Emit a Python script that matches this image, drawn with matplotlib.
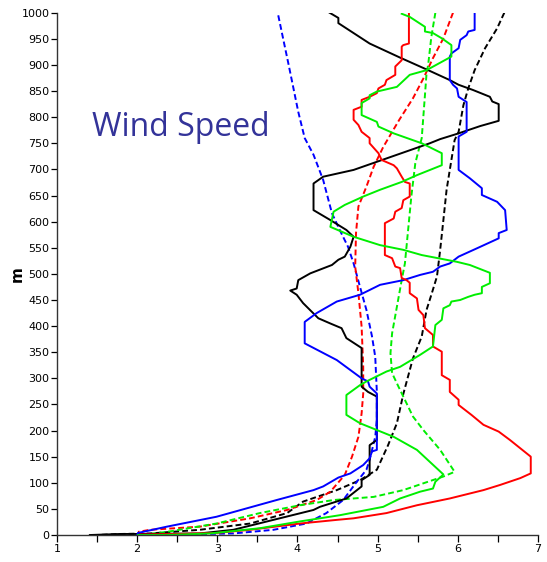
import matplotlib
matplotlib.use("Agg")
import matplotlib.pyplot as plt
from matplotlib.ticker import MultipleLocator

# ---- data (wind speed vs height) ----
black_solid_x = [4.40,4.51,4.51,4.90,5.28,5.63,5.90,6.01,6.19,6.40,6.43,6.51,6.51,6.28,6.01,5.78,5.65,5.11,4.70,4.32,4.20,4.20,4.41,4.61,4.70,4.66,4.59,4.51,4.43,4.16,4.01,3.99,3.91,3.99,4.07,4.26,4.41,4.55,4.61,4.68,4.80,4.80,4.88,4.99,4.99,4.90,4.90,4.80,4.80,4.61,4.28,4.20,3.62,3.20,2.78,2.04,1.79,1.41]
black_solid_y = [1000,990,980,941,914,890,871,862,852,839,830,825,793,783,769,758,750,721,699,686,673,622,603,584,571,552,533,527,517,501,488,472,468,460,444,415,405,396,377,370,358,284,274,265,182,172,115,105,93,70,54,48,26,10,3,2,2,0]

blue_solid_x = [6.21,6.21,6.13,6.11,6.03,6.01,5.92,5.90,5.90,5.94,5.99,6.01,6.06,6.11,6.11,6.01,6.01,6.15,6.30,6.30,6.49,6.59,6.61,6.51,6.51,6.24,6.01,5.90,5.78,5.69,5.53,5.32,5.03,4.78,4.49,4.24,4.09,4.09,4.49,4.80,4.88,4.90,4.99,4.99,4.93,4.90,4.82,4.66,4.51,4.32,4.20,3.74,2.99,2.37,2.01,2.00]
blue_solid_y = [1000,967,964,957,948,932,922,916,871,862,855,839,834,829,772,763,699,683,664,651,638,622,584,578,568,549,533,520,514,504,498,488,479,460,447,425,408,367,335,300,294,284,271,163,160,147,134,118,110,93,86,67,35,16,4,0]

red_solid_x = [5.39,5.39,5.32,5.30,5.30,5.22,5.22,5.11,5.09,5.01,4.99,4.90,4.80,4.80,4.70,4.70,4.76,4.80,4.90,4.90,5.01,5.05,5.20,5.24,5.30,5.34,5.40,5.40,5.32,5.30,5.22,5.20,5.09,5.09,5.18,5.22,5.28,5.30,5.36,5.40,5.40,5.49,5.51,5.57,5.59,5.69,5.69,5.80,5.80,5.90,5.90,6.01,6.01,6.17,6.32,6.51,6.65,6.78,6.91,6.91,6.78,6.53,6.32,5.90,5.49,5.11,4.70,4.49,4.03,3.41,2.99,2.49,2.04]
red_solid_y = [1000,941,938,935,909,897,881,871,862,855,846,839,833,820,814,795,785,772,760,750,731,718,708,702,686,676,673,648,641,626,619,606,597,536,530,514,511,492,488,483,463,453,431,421,396,383,361,351,306,297,274,259,249,230,211,198,182,166,150,118,109,96,86,70,57,42,32,29,22,10,4,2,1]

green_solid_x = [5.30,5.40,5.59,5.59,5.69,5.80,5.92,5.92,5.61,5.40,5.24,4.99,4.90,4.90,4.80,4.80,4.99,5.01,5.20,5.55,5.80,5.80,5.49,5.30,5.03,4.82,4.59,4.45,4.41,4.70,5.03,5.32,5.55,5.99,6.15,6.40,6.40,6.30,6.30,6.21,6.13,6.03,5.92,5.90,5.82,5.80,5.72,5.69,5.53,5.28,5.11,4.86,4.78,4.61,4.61,4.78,5.20,5.49,5.82,5.72,5.69,5.53,5.28,5.07,4.53,4.03,3.53,2.91,2.37,2.01]
green_solid_y = [998,992,973,964,961,951,938,916,890,881,858,849,842,836,827,804,791,782,769,750,731,708,689,676,661,648,632,619,590,571,555,546,536,523,517,502,482,475,463,460,456,450,447,440,434,412,402,361,345,322,313,294,287,268,230,214,188,163,116,102,89,83,70,54,38,26,13,3,0,0]

black_dash_x = [6.58,6.49,6.34,6.21,6.13,6.07,6.01,5.96,5.92,5.86,5.82,5.78,5.74,5.67,5.61,5.55,5.44,5.32,5.24,5.13,4.99,4.78,4.49,4.07,3.87,3.41,2.78,2.16,1.79,1.50]
black_dash_y = [1000,970,932,890,855,823,772,756,718,661,603,546,495,460,431,380,338,270,214,172,125,105,86,64,42,22,10,3,2,0]

blue_dash_x = [3.76,3.82,3.89,3.95,4.01,4.09,4.20,4.32,4.43,4.53,4.63,4.70,4.78,4.86,4.93,4.97,4.99,4.99,4.97,4.90,4.86,4.74,4.57,4.36,4.11,3.70,3.20,2.00]
blue_dash_y = [995,951,900,855,810,760,728,680,616,583,552,520,475,431,380,341,274,220,188,144,125,102,67,42,22,10,3,0]

red_dash_x = [5.94,5.82,5.69,5.57,5.44,5.27,5.07,4.95,4.86,4.76,4.73,4.72,4.76,4.80,4.82,4.82,4.80,4.76,4.68,4.59,4.41,4.24,3.87,3.41,2.78,2.16,2.01]
red_dash_y = [1000,951,913,874,836,795,743,705,667,629,578,514,463,399,322,271,233,188,150,115,83,67,48,32,16,10,6]

green_dash_x = [5.72,5.67,5.63,5.61,5.59,5.55,5.47,5.42,5.38,5.34,5.30,5.24,5.18,5.16,5.18,5.26,5.32,5.44,5.57,5.78,5.96,5.82,5.57,5.32,4.95,4.45,4.03,3.53,2.99,2.37,2.04]
green_dash_y = [1000,954,900,884,842,760,712,648,584,520,488,437,386,348,310,284,265,227,201,163,121,112,99,86,73,67,57,42,22,6,0]

title_text = "Wind Speed"
y_label = "m"
x_ticks = [1, 2, 3, 4, 5, 6, 7]
y_ticks = list(range(0, 1001, 50))

# ---- figure ----
fig = plt.figure(figsize=(5.47, 5.62), dpi=100)
ax = fig.add_axes([0.1042, 0.048, 0.8793, 0.9294])

lw = 1.4
dash = (0, (3.0, 1.6))
ax.plot(black_dash_x, black_dash_y, color="black", lw=lw, ls=dash)
ax.plot(blue_dash_x, blue_dash_y, color="#0000ff", lw=lw, ls=dash)
ax.plot(red_dash_x, red_dash_y, color="#ff0000", lw=lw, ls=dash)
ax.plot(green_dash_x, green_dash_y, color="#00ee00", lw=lw, ls=dash)
ax.plot(black_solid_x, black_solid_y, color="black", lw=lw)
ax.plot(blue_solid_x, blue_solid_y, color="#0000ff", lw=lw)
ax.plot(red_solid_x, red_solid_y, color="#ff0000", lw=lw)
ax.plot(green_solid_x, green_solid_y, color="#00ee00", lw=lw)

ax.set_xlim(1, 7)
ax.set_ylim(0, 1000)
ax.set_xticks(x_ticks)
ax.set_xticklabels([str(t) for t in x_ticks])
ax.xaxis.set_minor_locator(MultipleLocator(0.5))
ax.set_yticks(y_ticks)
ax.set_yticklabels([str(t) for t in y_ticks])

for s in ["top", "right"]:
    ax.spines[s].set_visible(False)
for s in ["left", "bottom"]:
    ax.spines[s].set_linewidth(1.0)
    ax.spines[s].set_color("#333333")

tick_font = ["Liberation Sans Narrow", "DejaVu Sans"]
ax.tick_params(axis="y", direction="out", length=4, width=0.9, pad=1.5, labelsize=8, colors="black")
ax.tick_params(axis="x", which="both", direction="out", length=5, width=0.9, pad=1.5, labelsize=8)
for lab in ax.get_xticklabels() + ax.get_yticklabels():
    lab.set_family(tick_font)

ax.set_ylabel(y_label, fontsize=11, fontweight="bold")
ax.yaxis.set_label_coords(-0.068, 0.5)

ax.text(0.073, 0.78, title_text, transform=ax.transAxes, fontsize=23,
        color="#333399", ha="left", va="center",
        family=["Open Sans", "DejaVu Sans"])

fig.savefig("out.png", dpi=100)
